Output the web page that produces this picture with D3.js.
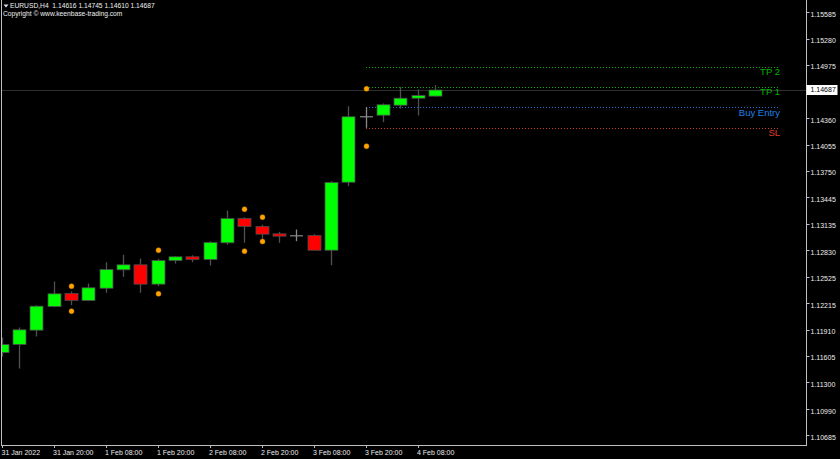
<!DOCTYPE html>
<html>
<head>
<meta charset="utf-8">
<script src="https://cdn.jsdelivr.net/npm/d3@7/dist/d3.min.js"></script>
<style>
  html, body { margin: 0; padding: 0; background: #000; }
  svg { display: block; }
</style>
</head>
<body>
<script>
// ---- Data (EURUSD H4) ----
const barTimes = [
  "2022-01-31 08:00","2022-01-31 12:00","2022-01-31 16:00","2022-01-31 20:00",
  "2022-02-01 00:00","2022-02-01 04:00","2022-02-01 08:00","2022-02-01 12:00",
  "2022-02-01 16:00","2022-02-01 20:00","2022-02-02 00:00","2022-02-02 04:00",
  "2022-02-02 08:00","2022-02-02 12:00","2022-02-02 16:00","2022-02-02 20:00",
  "2022-02-03 00:00","2022-02-03 04:00","2022-02-03 08:00","2022-02-03 12:00",
  "2022-02-03 16:00","2022-02-03 20:00","2022-02-04 00:00","2022-02-04 04:00",
  "2022-02-04 08:00","2022-02-04 12:00"
];
const opens  = [1.11646,1.11740,1.11905,1.12179,1.12330,1.12249,1.12391,1.12604,1.12662,1.12438,1.12712,1.12755,1.12724,1.12917,1.13199,1.13106,1.13021,1.12998,1.13002,1.12831,1.13619,1.14377,1.14395,1.14511,1.14592,1.14616];
const highs  = [1.11820,1.11936,1.12194,1.12469,1.12353,1.12446,1.12692,1.12778,1.12735,1.12732,1.12762,1.12773,1.12936,1.13291,1.13214,1.13126,1.13044,1.13071,1.13017,1.13631,1.14499,1.14488,1.14531,1.14724,1.14693,1.14745];
const lows   = [1.11600,1.11461,1.11832,1.12171,1.12194,1.12245,1.12338,1.12523,1.12338,1.12414,1.12677,1.12692,1.12654,1.12894,1.12917,1.12963,1.12917,1.12936,1.12828,1.12658,1.13573,1.14249,1.14314,1.14473,1.14392,1.14610];
const closes = [1.11739,1.11909,1.12183,1.12326,1.12249,1.12396,1.12608,1.12662,1.12438,1.12712,1.12755,1.12724,1.12921,1.13199,1.13106,1.13017,1.12994,1.12998,1.12831,1.13616,1.14377,1.14377,1.14516,1.14592,1.14623,1.14687];

// fractal-like dots
const dotBars  = [4, 9, 14, 15, 21];
const dotUpper = [1.12414, 1.12831, 1.13306, 1.13214, 1.14701];
const dotLower = [1.12125, 1.12326, 1.12820, 1.12932, 1.14036];

// trade levels
const levelNames  = ["TP 2", "TP 1", "Buy Entry", "SL"];
const levelPrices = [1.14958, 1.14725, 1.14490, 1.14252];
const levelColors = ["#00b400", "#00b400", "#1e82e6", "#e03c28"];
const levelLineColors = ["#00b000", "#00b000", "#2a6ed0", "#c83a24"];
const levelStartBar = 21;

// axes
const yTicks = [1.15585,1.15280,1.14975,1.14360,1.14055,1.13750,1.13445,1.13135,1.12830,1.12525,1.12215,1.11910,1.11605,1.11300,1.10990,1.10685];
const xTickBars   = [0, 3, 6, 9, 12, 15, 18, 21, 24];
const xTickLabels = ["31 Jan 2022","31 Jan 20:00","1 Feb 08:00","1 Feb 20:00","2 Feb 08:00","2 Feb 20:00","3 Feb 08:00","3 Feb 20:00","4 Feb 08:00"];

const symbol = "EURUSD,H4";
const lastPrice = 1.14687;

// ---- Drawing ----
const W = 840, H = 459;
const plotL = 1.5, plotR = 806.5, plotT = 0, plotB = 446;
const font = "'Liberation Sans', Arial, sans-serif";

const svg = d3.select("body").append("svg").attr("width", W).attr("height", H)
  .style("background", "#000");

const x = d3.scalePoint().domain(barTimes).range([1.7, 434.95]);
const y = d3.scaleLinear().domain([1.105633, 1.157295]).range([plotB, plotT]);

svg.append("defs").append("clipPath").attr("id", "plotclip")
  .append("rect").attr("x", 2).attr("y", 0).attr("width", plotR - 2).attr("height", plotB);

const g = svg.append("g").attr("clip-path", "url(#plotclip)");

// current price line
g.append("line")
  .attr("x1", plotL).attr("x2", plotR)
  .attr("y1", Math.round(y(lastPrice)) + 0.5).attr("y2", Math.round(y(lastPrice)) + 0.5)
  .attr("stroke", "#2e2e2e").attr("stroke-width", 1);

// level lines
const lvl = levelNames.map((n, i) => ({ name: n, price: levelPrices[i], color: levelColors[i], lc: levelLineColors[i] }));
const xStart = Math.round(x(barTimes[levelStartBar]));
g.selectAll(".lvl").data(lvl).enter().append("line")
  .attr("x1", xStart).attr("x2", 778)
  .attr("y1", d => Math.round(y(d.price)) + 0.5).attr("y2", d => Math.round(y(d.price)) + 0.5)
  .attr("stroke", d => d.lc).attr("stroke-width", 1).attr("stroke-dasharray", "1,2");
svg.selectAll(".lvlt").data(lvl).enter().append("text")
  .attr("x", 780).attr("y", d => y(d.price) + 6)
  .attr("text-anchor", "end").attr("dominant-baseline", "middle")
  .attr("font-family", font).attr("font-size", 9.5)
  .attr("fill", d => d.color).text(d => d.name);

// candles
const bars = barTimes.map((t, i) => ({ t, o: opens[i], h: highs[i], l: lows[i], c: closes[i] }));
const bw = 13;
const cg = g.selectAll(".candle").data(bars).enter().append("g");
cg.append("line")
  .attr("x1", d => Math.round(x(d.t)) + 0.5).attr("x2", d => Math.round(x(d.t)) + 0.5)
  .attr("y1", d => y(d.h)).attr("y2", d => y(d.l))
  .attr("stroke", d => d.o === d.c ? "#8a8a8a" : "#505050").attr("stroke-width", 1.3);
cg.filter(d => d.o !== d.c).append("rect")
  .attr("x", d => Math.round(x(d.t)) - bw / 2 + 0.5)
  .attr("y", d => y(Math.max(d.o, d.c)))
  .attr("width", bw)
  .attr("height", d => Math.max(1, y(Math.min(d.o, d.c)) - y(Math.max(d.o, d.c))))
  .attr("fill", d => d.c > d.o ? "#00ff00" : "#ff0000")
  .attr("stroke", "#4a4a4a").attr("stroke-width", 0.8);
cg.filter(d => d.o === d.c).append("line")
  .attr("x1", d => Math.round(x(d.t)) - bw / 2 + 0.5).attr("x2", d => Math.round(x(d.t)) + bw / 2 + 0.5)
  .attr("y1", d => y(d.o)).attr("y2", d => y(d.o))
  .attr("stroke", "#8a8a8a").attr("stroke-width", 1.2);

// dots
const dots = [];
dotBars.forEach((b, i) => {
  dots.push({ t: barTimes[b], p: dotUpper[i] });
  dots.push({ t: barTimes[b], p: dotLower[i] });
});
g.selectAll(".dot").data(dots).enter().append("circle")
  .attr("cx", d => Math.round(x(d.t)) + 0.5).attr("cy", d => y(d.p)).attr("r", 2.5)
  .attr("fill", "#ffa500").attr("stroke", "#d08000").attr("stroke-width", 0.5);

// frame
const frameColor = "#c0c0c0";
svg.append("line").attr("x1", plotL).attr("x2", plotL).attr("y1", 0).attr("y2", plotB).attr("stroke", frameColor);
svg.append("line").attr("x1", plotR).attr("x2", plotR).attr("y1", 0).attr("y2", plotB).attr("stroke", frameColor);
svg.append("line").attr("x1", plotL).attr("x2", plotR).attr("y1", plotB - 0.5).attr("y2", plotB - 0.5).attr("stroke", frameColor);

// y axis (right)
const yAxis = svg.append("g");
yAxis.selectAll(".yt").data(yTicks).enter().append("line")
  .attr("x1", plotR).attr("x2", plotR + 3)
  .attr("y1", d => Math.round(y(d)) + 0.5).attr("y2", d => Math.round(y(d)) + 0.5)
  .attr("stroke", frameColor);
yAxis.selectAll(".ytl").data(yTicks).enter().append("text")
  .attr("x", 810.5).attr("y", d => y(d) + 2.5)
  .attr("dominant-baseline", "middle")
  .attr("font-family", font).attr("font-size", 7).attr("fill", "#ececec")
  .text(d => d.toFixed(5));

// price box
const py = y(lastPrice);
svg.append("rect").attr("x", plotR).attr("y", py - 5).attr("width", 31).attr("height", 10).attr("fill", "#fff");
svg.append("text").attr("x", 810.5).attr("y", py + 0.5).attr("dominant-baseline", "middle")
  .attr("font-family", font).attr("font-size", 7).attr("fill", "#000").text(lastPrice.toFixed(5));

// x axis
const xAxis = svg.append("g");
xAxis.selectAll(".xt").data(xTickBars).enter().append("line")
  .attr("x1", d => Math.round(x(barTimes[d])) + 0.5).attr("x2", d => Math.round(x(barTimes[d])) + 0.5)
  .attr("y1", plotB).attr("y2", plotB + 2)
  .attr("stroke", frameColor);
xAxis.selectAll(".xtl").data(xTickBars).enter().append("text")
  .attr("x", d => Math.max(1.5, Math.round(x(barTimes[d])) - 1))
  .attr("y", 453)
  .attr("dominant-baseline", "middle")
  .attr("font-family", font).attr("font-size", 7).attr("fill", "#ececec")
  .text((d, i) => xTickLabels[i]);

// header
svg.append("path").attr("d", "M3.5,4.5 L8.5,4.5 L6,7.5 Z").attr("fill", "#e0e0e0");
svg.append("text").attr("x", 10).attr("y", 6.3).attr("dominant-baseline", "middle")
  .attr("font-family", font).attr("font-size", 6.7).attr("fill", "#f0f0f0")
  .attr("xml:space", "preserve")
  .text(symbol + "  " + [opens[opens.length-1], highs[highs.length-1], lows[lows.length-1], closes[closes.length-1]].map(v => v.toFixed(5)).join(" "));
svg.append("text").attr("x", 3).attr("y", 14.5).attr("dominant-baseline", "middle")
  .attr("font-family", font).attr("font-size", 6.7).attr("fill", "#f0f0f0")
  .text("Copyright \u00a9 www.keenbase-trading.com");
</script>
</body>
</html>
